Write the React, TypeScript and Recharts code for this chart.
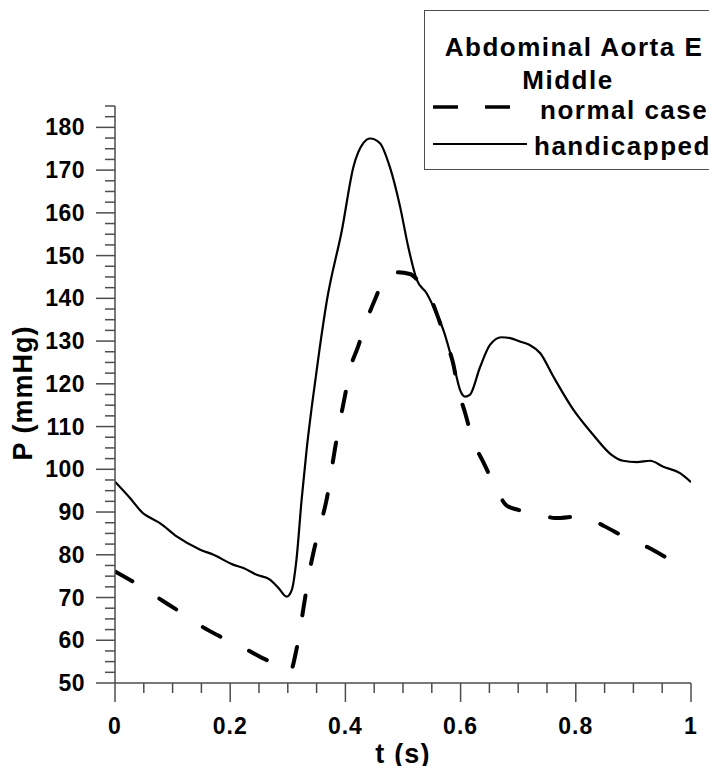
import React from 'react';
import { LineChart, Line, XAxis, YAxis, Legend } from 'recharts';

// pressure waveform, handicapped case
const handicappedT = [
  0, 0.026, 0.049, 0.058, 0.078, 0.107, 0.148, 0.171, 0.205, 0.223, 0.246, 0.269, 0.284, 0.298,
  0.307, 0.315, 0.324, 0.333, 0.342, 0.355, 0.368, 0.394, 0.414, 0.431, 0.443, 0.46, 0.477, 0.495,
  0.509, 0.524, 0.541, 0.558, 0.57, 0.582, 0.59, 0.599, 0.608, 0.616, 0.634, 0.651, 0.671, 0.686,
  0.703, 0.72, 0.738, 0.761, 0.796, 0.83, 0.862, 0.882, 0.906, 0.929, 0.952, 0.981, 1,
];
const handicappedP = [
  97.1, 93.3, 89.7, 88.9, 87.4, 84.3, 81.2, 80.0, 77.7, 76.9, 75.3, 74.2, 72.2, 70.2,
  71.8, 78.8, 92.9, 105.0, 115.0, 128.0, 139.6, 156.0, 170.8, 176.3, 177.4, 176.3, 170.8, 161.4,
  152.1, 144.3, 141.2, 136.5, 132.6, 127.2, 123.3, 118.6, 117.0, 117.4, 124.0, 129.1, 130.9, 130.7,
  129.9, 129.1, 127.2, 121.7, 113.9, 108.1, 103.4, 102.0, 101.7, 102.0, 100.6, 99.1, 97.0,
];

// pressure waveform, normal case
const normalT = [
  0, 0.035, 0.075, 0.11, 0.151, 0.185, 0.229, 0.263, 0.28, 0.304, 0.315, 0.324, 0.33, 0.339,
  0.347, 0.359, 0.368, 0.376, 0.382, 0.391, 0.399, 0.408, 0.422, 0.437, 0.451, 0.472, 0.486, 0.512,
  0.53, 0.544, 0.558, 0.576, 0.587, 0.596, 0.608, 0.621, 0.639, 0.66, 0.68, 0.7, 0.726, 0.764,
  0.81, 0.848, 0.891, 0.926, 0.969, 1,
];
const normalP = [
  76.1, 73.4, 69.9, 66.9, 63.2, 60.7, 57.8, 55.4, 54.5, 52.7, 57.8, 64.8, 69.9, 77.0,
  82.0, 88.2, 93.3, 99.9, 104.9, 111.6, 117.0, 123.3, 128.7, 134.9, 139.6, 145.5, 146.1, 145.7,
  143.5, 141.2, 136.6, 129.5, 124.8, 118.6, 113.1, 106.9, 101.8, 96.0, 91.5, 90.5, 90.0, 88.6,
  89.0, 86.8, 83.7, 81.7, 78.4, 76.1,
];

const timeLabels = [0, 0.2, 0.4, 0.6, 0.8, 1];
const pressureLabels = [50, 60, 70, 80, 90, 100, 110, 120, 130, 140, 150, 160, 170, 180];

const timeTicks = Array.from({ length: 21 }, (_, i) => Math.round(i * 5) / 100);
const pressureTicks = Array.from({ length: 55 }, (_, i) => 50 + i * 2.5);

const handicappedData = handicappedT.map((t, i) => ({ t, p: handicappedP[i] }));
const normalData = normalT.map((t, i) => ({ t, p: normalP[i] }));

const FONT = '"Liberation Sans", Arial, Helvetica, sans-serif';
const AXIS = '#4d4d4d';

const isMajor = (list: number[], v: number) => list.some((m) => Math.abs(m - v) < 1e-6);

const TimeTick = (props: any) => {
  const { x, y, payload } = props;
  const major = isMajor(timeLabels, payload.value);
  return (
    <g>
      <line x1={x} y1={y} x2={x} y2={y + (major ? 19 : 10)} stroke={AXIS} strokeWidth={1.5} />
      {major && (
        <text x={x} y={y + 51} textAnchor="middle" fontFamily={FONT} fontWeight="bold" fontSize={23}
          style={{ letterSpacing: '1px' }} fill="#000">
          {String(payload.value)}
        </text>
      )}
    </g>
  );
};

const PressureTick = (props: any) => {
  const { x, y, payload } = props;
  const major = isMajor(pressureLabels, payload.value);
  return (
    <g>
      <line x1={x - (major ? 19 : 10)} y1={y} x2={x} y2={y} stroke={AXIS} strokeWidth={1.5} />
      {major && (
        <text x={x - 30} y={y} dy="0.35em" textAnchor="end" fontFamily={FONT} fontWeight="bold"
          fontSize={23} style={{ letterSpacing: '0.5px' }} fill="#000">
          {payload.value}
        </text>
      )}
    </g>
  );
};

const TimeTitle = (props: any) => {
  const vb = props.viewBox || { x: 115, width: 576, y: 683 };
  const cx = vb.x + vb.width / 2;
  return (
    <text x={cx} y={763} textAnchor="middle" fontFamily={FONT} fontWeight="bold" fontSize={27}
      style={{ letterSpacing: '1.2px' }} fill="#000">
      t (s)
    </text>
  );
};

const PressureTitle = () => {
  const cx = 32;
  const cy = 393;
  return (
    <text x={cx} y={cy} transform={`rotate(-90 ${cx} ${cy})`} textAnchor="middle" fontFamily={FONT}
      fontWeight="bold" fontSize={27} style={{ letterSpacing: '1px' }} fill="#000">
      P (mmHg)
    </text>
  );
};

const LegendBox = () => (
  <div
    style={{
      width: 293,
      height: 160,
      boxSizing: 'border-box',
      borderLeft: `1px solid ${AXIS}`,
      borderTop: `1px solid ${AXIS}`,
      borderBottom: `1px solid ${AXIS}`,
      background: '#fff',
    }}
  >
    <svg width={292} height={158} style={{ display: 'block' }}>
      <g fontFamily={FONT} fontWeight="bold" fontSize={26} fill="#000" style={{ letterSpacing: '1.5px' }}>
        <text x={149} y={45} textAnchor="middle">Abdominal Aorta E</text>
        <text x={143} y={78} textAnchor="middle">Middle</text>
        <text x={115} y={108}>normal case</text>
        <text x={109} y={144}>handicapped</text>
      </g>
      <line x1={8} x2={85} y1={96} y2={96} stroke="#000" strokeWidth={3.5} strokeDasharray="25 27" />
      <line x1={8} x2={102} y1={133} y2={133} stroke="#000" strokeWidth={2} />
    </svg>
  </div>
);

export default function App() {
  return (
    <div style={{ margin: -8, width: 717, height: 774, position: 'relative', background: '#fff' }}>
      <LineChart width={717} height={774} margin={{ top: 106, right: 26, bottom: 0, left: 0 }}>
        <XAxis
          type="number"
          dataKey="t"
          domain={[0, 1]}
          ticks={timeTicks}
          interval={0}
          height={91}
          tickSize={0}
          tickMargin={0}
          tick={<TimeTick />}
          axisLine={{ stroke: AXIS, strokeWidth: 1.5 }}
          label={<TimeTitle />}
          allowDataOverflow
        />
        <YAxis
          type="number"
          dataKey="p"
          domain={[50, 185]}
          ticks={pressureTicks}
          interval={0}
          width={115}
          tickSize={0}
          tickMargin={0}
          tick={<PressureTick />}
          axisLine={{ stroke: AXIS, strokeWidth: 1.5 }}
          label={<PressureTitle />}
          allowDataOverflow
        />
        <Legend
          layout="horizontal"
          verticalAlign="middle"
          align="center"
          wrapperStyle={{ left: 424, top: 10, width: 293, height: 160 }}
          content={() => <LegendBox />}
        />
        <Line
          data={normalData}
          dataKey="p"
          name="normal case"
          type="monotone"
          stroke="#000"
          strokeWidth={4}
          strokeDasharray="20 32"
          strokeLinecap="round"
          dot={false}
          activeDot={false}
          isAnimationActive={false}
        />
        <Line
          data={handicappedData}
          dataKey="p"
          name="handicapped"
          type="monotone"
          stroke="#000"
          strokeWidth={2.2}
          dot={false}
          activeDot={false}
          isAnimationActive={false}
        />
      </LineChart>
    </div>
  );
}
